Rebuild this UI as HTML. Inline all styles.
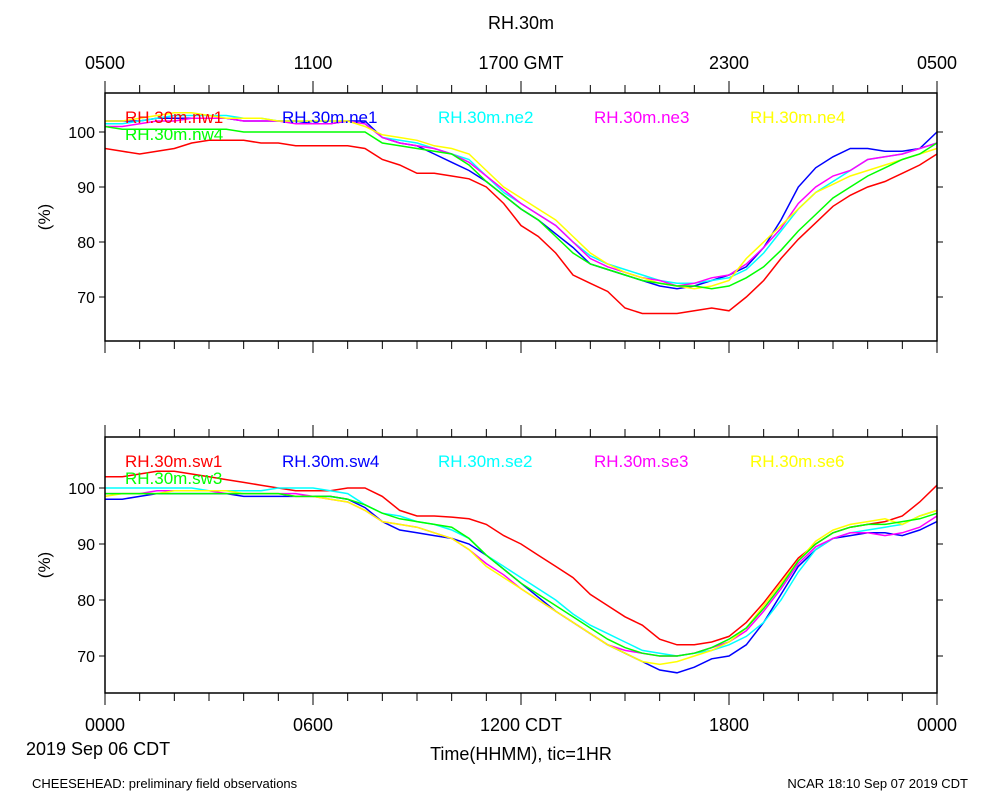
<!DOCTYPE html>
<html><head><meta charset="utf-8"><style>
body{margin:0;background:#fff}
svg{display:block;font-family:"Liberation Sans",sans-serif}
</style></head><body>
<svg id="c" width="1000" height="800"></svg>
<script>
const hours=[0,24];
const majorLabelsTop=["0500","1100","1700 GMT","2300","0500"];
const majorLabelsBot=["0000","0600","1200 CDT","1800","0000"];
const yTicks=[70,80,90,100];
const topNames=["RH.30m.nw1","RH.30m.ne1","RH.30m.ne2","RH.30m.ne3","RH.30m.ne4","RH.30m.nw4"];
const botNames=["RH.30m.sw1","RH.30m.sw4","RH.30m.se2","RH.30m.se3","RH.30m.se6","RH.30m.sw3"];
const colors=["#ff0000","#0000ff","#00ffff","#ff00ff","#ffff00","#00ff00"];
const nw1=[97,96.5,96,96.5,97,98,98.5,98.5,98.5,98,98,97.5, 97.5,97.5,97.5,97,95,94,92.5,92.5,92,91.5,90,87, 83,81,78,74,72.5,71,68,67,67,67,67.5,68, 67.5,70,73,77,80.5,83.5,86.5,88.5,90,91,92.5,94, 96];
const ne1=[102,102,102,102.5,102.5,102.5,102.5,102.5,102,102,102,102, 101.5,101.5,102,102,99,98,97.5,96,94.5,93,91,88.5, 86,84,81.5,79,76,75,74,73,72,71.5,72,73, 74,75.5,79,84,90,93.5,95.5,97,97,96.5,96.5,97, 100];
const ne2=[101.5,101.5,102,102.5,103,103,103,103,102.5,102.5,102,102, 102,102,102,101.5,99,98.5,98,97,96,95,92,89, 87,85,83,80,77.5,76,75,74,73,72.5,72.5,73, 73.5,75,78,82,86,89,91,93,95,95.5,96,97, 98];
const ne3=[101,101,101.5,102,102,102.5,102.5,102.5,102,102,102,101.5, 101.5,101.5,102,101.5,99,98,97.5,97,96,94.5,92,89.5, 87,85,83,80,77,75.5,74.5,73.5,73,72,72.5,73.5, 74,76,79,82.5,87,90,92,93,95,95.5,96,97, 98];
const ne4=[102,102,102.5,103,103.5,103.5,103,102.5,102.5,102.5,102,102, 102,102,102,101,99.5,99,98.5,97.5,97,96,93,90, 88,86,84,81,78,76,74.5,73.5,72.5,72,71.5,72, 73,77,80,83,86,89,90.5,92,93,94,95,96, 97];
const nw4=[101,100.5,100.5,100.5,100.5,100.5,100.5,100.5,100,100,100,100, 100,100,100,100,98,97.5,97,96.5,96,94,91,88.5, 86,84,81,78,76,75,74,73,72.5,72,72,71.5, 72,73.5,75.5,78.5,82,85,88,90,92,93.5,95,96, 98];
const sw1=[102,102,102.5,103,103,102.5,102,101.5,101,100.5,100,99.5, 99.5,99.5,100,100,98.5,96,95,95,94.8,94.5,93.5,91.5, 90,88,86,84,81,79,77,75.5,73,72,72,72.5, 73.5,76,79.5,83.5,87.5,90,92,93,93.5,94,95,97.5, 100.5];
const sw4=[98,98,98.5,99,99,99,99,99,98.5,98.5,98.5,98.5, 98.5,98.5,98,96.5,94,92.5,92,91.5,91,90,88,85.5, 83,80.5,78,76,74,72,70.5,69,67.5,67,68,69.5, 70,72,76,81,86,89,91,91.5,92,92,91.5,92.5, 94];
const se2=[100,100,100,100,100,100,99.5,99.5,99.5,99.5,100,100, 100,99.5,99,97,95.5,95,94,93.5,92.5,91,88,86, 84,82,80,77.5,75.5,74,72.5,71,70.5,70,70.5,71, 72,73.5,76,80,85,89,91,92,92.5,93,93.5,95, 96];
const se3=[99,99,99,99.5,99.5,99.5,99.5,99,99,99,99,99, 98.5,98,97.5,96,94,93.5,93,92,91,89,86.5,84.5, 82,80,78,76,74,72,71,70.5,70,70,70.5,71.5, 72.5,74.5,78,82,86.5,89.5,91,92,92,91.5,92,93, 95];
const se6=[98.5,99,99,99,99.5,99.5,99.5,99.5,99,99,99,98.5, 98.5,98,97.5,96,94,93.5,93,92,91,89,86,84, 82,80,78,76,74,72,70.5,69,68.5,69,70,71, 72.5,75,79,83,87,90.5,92.5,93.5,94,94.5,93.5,95, 96];
const sw3=[99,99,99,99,99,99,99,99,99,99,99,98.5, 98.5,98.5,98,97,95.5,94.5,94,93.5,93,91,88,85.5, 83,81,79,77,75,73,71.5,70.5,70,70,70.5,71.5, 73,75,78.5,82.5,87,90,92,93,93.5,93.5,94,94.5, 95.5];
const topSeries=[nw1,ne1,ne2,ne3,ne4,nw4];
const botSeries=[sw1,sw4,se2,se3,se6,sw3];

const NS="http://www.w3.org/2000/svg";
const svg=document.getElementById("c");
function el(t,a,p){const e=document.createElementNS(NS,t);for(const k in a)e.setAttribute(k,a[k]);(p||svg).appendChild(e);return e;}
function txt(x,y,s,size,anchor,fill,p){const e=el("text",{x:x,y:y,"font-size":size,"text-anchor":anchor||"middle",fill:fill||"#000"},p);e.textContent=s;return e;}
const X0=105,X1=937;
function xs(h){return X0+(h-hours[0])/(hours[1]-hours[0])*(X1-X0);}

function panel(name,top,bot,y100,y70,series,names,labels,labelY){
  const g=el("g",{});
  
  
  const ys=v=>y70+(v-70)*(y100-y70)/30;
  const clip=el("clipPath",{id:name+"-clip"},g);
  el("rect",{x:X0,y:top,width:X1-X0,height:bot-top},clip);
  const sg=el("g",{"clip-path":"url(#"+name+"-clip)"},g);
  series.forEach((s,i)=>{
    const pts=s.map((v,j)=>xs(j*24/(s.length-1)).toFixed(1)+","+ys(v).toFixed(1)).join(" ");
    const pl=el("polyline",{points:pts,fill:"none",stroke:colors[i],"stroke-width":1.5},sg);
    
    
  });
  el("rect",{x:X0,y:top,width:X1-X0,height:bot-top,fill:"none",stroke:"#000","stroke-width":1.5},g);
  for(let h=0;h<=24;h++){
    const x=xs(h),L=h%6==0?12:8;
    el("line",{x1:x,x2:x,y1:bot,y2:bot+L,stroke:"#000","stroke-width":1},g);
    el("line",{x1:x,x2:x,y1:top,y2:top-L,stroke:"#000","stroke-width":1},g);
  }
  yTicks.forEach(v=>{
    const y=ys(v);
    el("line",{x1:X0-6,x2:X0,y1:y,y2:y,stroke:"#000"},g);
    el("line",{x1:X1,x2:X1+6,y1:y,y2:y,stroke:"#000"},g);
    const t=txt(X0-10,y+6,String(v),16,"end","#000",g);
    
    
  });
  const yt=txt(0,0,"(%)",17,"middle","#000",g);
  yt.setAttribute("transform","translate(50,"+((top+bot)/2)+") rotate(-90)");
  
  
  const lx=[125,282,438,594,750,125],ly=[top+30,top+30,top+30,top+30,top+30,top+47];
  names.forEach((n,i)=>{
    const t=txt(lx[i],ly[i],n,17,"start",colors[i],g);
    
    
  });
  labels.forEach((s,i)=>{
    const t=txt(xs(i*6),labelY,s,18,"middle","#000",g);
    
    
  });
}
panel("top-panel",93,341,132,297,topSeries,topNames,majorLabelsTop,69);
panel("bottom-panel",437,693,488,656,botSeries,botNames,majorLabelsBot,731);

let t;
t=txt(521,29,"RH.30m",18);
t=txt(26,755,"2019 Sep 06 CDT",18,"start");
t=txt(521,760,"Time(HHMM), tic=1HR",18);
t=txt(32,788,"CHEESEHEAD: preliminary field observations",13,"start");
t=txt(968,788,"NCAR 18:10 Sep 07 2019 CDT",13,"end");
</script>
</body></html>
